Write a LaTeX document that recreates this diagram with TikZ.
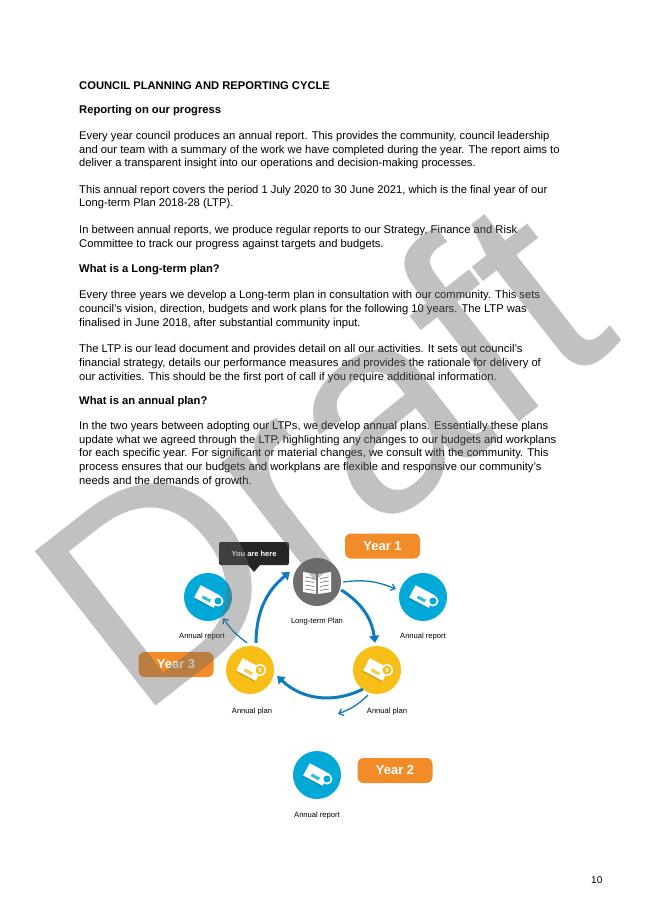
\documentclass[tikz,border=0pt]{standalone}
\usepackage{fontspec}
\setmainfont{Liberation Sans}
\usetikzlibrary{arrows.meta,calc}
\definecolor{cblue}{HTML}{00A9D8}
\definecolor{cyel}{HTML}{F6BE17}
\definecolor{corange}{HTML}{F28C28}
\definecolor{carrow}{HTML}{0E7BC0}
\definecolor{cgray}{HTML}{6E6E6E}
\tikzset{
 para/.style={anchor=base west,align=left,inner sep=0,font=\fontsize{11.2}{13.6}\selectfont},
 head/.style={para,font=\fontsize{11.2}{13.6}\selectfont\bfseries},
 circ/.style={circle,minimum size=48pt,inner sep=0},
 lbl/.style={font=\fontsize{7.6}{9}\selectfont,inner sep=0},
 yr/.style={fill=corange,rounded corners=6pt,minimum width=75pt,minimum height=25pt,text=white,font=\fontsize{13}{14}\selectfont\bfseries},
 thick arr/.style={carrow,line width=3pt,-{Triangle[length=7pt,width=10pt]}},
 thin arr/.style={carrow,line width=1.3pt,-{Straight Barb[length=4pt,width=7pt]}},
}
\newcommand{\bookicon}[2]{%
 \begin{scope}[shift={#1},rotate=-28]
  \fill[white] (-12,-7) rectangle (10,7);
  \fill[#2!60!black,opacity=.35] (-12,7) -- (10,7) -- (10,8.5) -- (-12,8.5) -- cycle;
  \fill[#2!80!white] (-5,1) rectangle (4,4);
 \end{scope}}
\begin{document}
\begin{tikzpicture}[x=1pt,y=-1pt]
\useasboundingbox (0,0) rectangle (645,912);
\fill[white] (0,0) rectangle (645,912);
% text
\node[head] (h1) at (79,90) {COUNCIL PLANNING AND REPORTING CYCLE};
\node[head] (h2) at (79,114) {Reporting on our progress};
\node[para] (p1) at (79,167) {Every year council produces an annual report. This provides the community, council leadership\\and our team with a summary of the work we have completed during the year. The report aims to\\deliver a transparent insight into our operations and decision-making processes.};
\node[para] (p2) at (79,207) {This annual report covers the period 1 July 2020 to 30 June 2021, which is the final year of our\\Long-term Plan 2018-28 (LTP).};
\node[para] (p3) at (79,247) {In between annual reports, we produce regular reports to our Strategy, Finance and Risk\\Committee to track our progress against targets and budgets.};
\node[head] (h3) at (79,272) {What is a Long-term plan?};
\node[para] (p4) at (79,326) {Every three years we develop a Long-term plan in consultation with our community. This sets\\council's vision, direction, budgets and work plans for the following 10 years. The LTP was\\finalised in June 2018, after substantial community input.};
\node[para] (p5) at (79,380) {The LTP is our lead document and provides detail on all our activities. It sets out council's\\financial strategy, details our performance measures and provides the rationale for delivery of\\our activities. This should be the first port of call if you require additional information.};
\node[head] (h4) at (79,404) {What is an annual plan?};
\node[para] (p6) at (79,484) {In the two years between adopting our LTPs, we develop annual plans. Essentially these plans\\update what we agreed through the LTP, highlighting any changes to our budgets and workplans\\for each specific year. For significant or material changes, we consult with the community. This\\process ensures that our budgets and workplans are flexible and responsive our community's\\needs and the demands of growth.};
% diagram
\node[fill=black!85,rounded corners=2pt,minimum width=70pt,minimum height=23pt,text=white,font=\fontsize{7.5}{8}\selectfont\bfseries] (here) at (254,553.5) {You are here};
\fill[black!85] (248,565) -- (260,565) -- (254,572) -- cycle;
\node[yr] (y1) at (382.5,546) {Year 1};
\node[yr] (y2) at (395,770.5) {Year 2};
\node[yr] (y3) at (176,664.5) {Year 3};
\node[circ,fill=cgray] (ltp) at (317,582) {};
\node[circ,fill=cblue] (r1) at (208,597) {};
\node[circ,fill=cblue] (r2) at (423,597) {};
\node[circ,fill=cblue] (r3) at (317,775) {};
\node[circ,fill=cyel] (p1c) at (250,670) {};
\node[circ,fill=cyel] (p2c) at (377,670) {};
% icons
\begin{scope}[white,line width=1pt]
 \fill (303,572) -- (316,574) -- (316,594) -- (303,592) -- cycle;
 \fill (318,574) -- (331,572) -- (331,592) -- (318,594) -- cycle;
 \foreach \yy in {577,581,585,589}{\draw[cgray,line width=.6pt] (305,\yy) -- (314,\yy+1.5); \draw[cgray,line width=.6pt] (320,\yy+1.5) -- (329,\yy);}
\end{scope}
\foreach \c in {r1,r2,r3}{\bookicon{(\c)}{cblue}
 \fill[white] ($(\c)+(10,4)$) circle (5.5); \fill[cblue] ($(\c)+(10,4)$) circle (3.5);}
\foreach \c in {p1c,p2c}{\bookicon{(\c)}{cyel}
 \fill[white] ($(\c)+(10,0)$) circle (6); \fill[cyel] ($(\c)+(10,0)$) circle (4.5);
 \node[text=white,font=\fontsize{6}{6}\selectfont\bfseries] at ($(\c)+(10,0)$) {\$};}
\node[lbl] (lltp) at (317,622) {Long-term Plan};
\node[lbl] (lr1) at (202,637) {Annual report};
\node[lbl] (lr2) at (423,637) {Annual report};
\node[lbl] (lr3) at (317,816) {Annual report};
\node[lbl] (lp1) at (252,712) {Annual plan};
\node[lbl] (lp2) at (387,712) {Annual plan};
% arrows
\draw[thin arr] ($(ltp.east)+(2,0)$) to[bend left=15] ($(r2.west)+(-3,-8)$);
\draw[thick arr] ($(ltp.east)+(0,8)$) to[bend left=25] ($(p2c.north)+(-2,-3)$);
\draw[thick arr] ($(p2c.south west)+(3,2)$) to[bend left=35] ($(p1c.east)+(3,6)$);
\draw[thin arr] ($(p2c.south west)+(8,8)$) to[bend left=12] ($(r3.north)+(21,-37)$);
\draw[thick arr] ($(p1c.north)+(6,-3)$) to[bend left=25] ($(ltp.west)+(-3,-10)$);
\draw[thin arr] ($(p1c.north)+(-3,-3)$) to[bend left=10] ($(r1.south east)+(-2,4)$);
\node[para,font=\fontsize{10}{12}\selectfont] (pg) at (591,883) {10};
% watermark
\node[rotate=38,text=black!60,opacity=.4,inner sep=0,font=\fontsize{285}{285}\selectfont] (wm) at (318,450) {Draft};
\end{tikzpicture}
\end{document}
